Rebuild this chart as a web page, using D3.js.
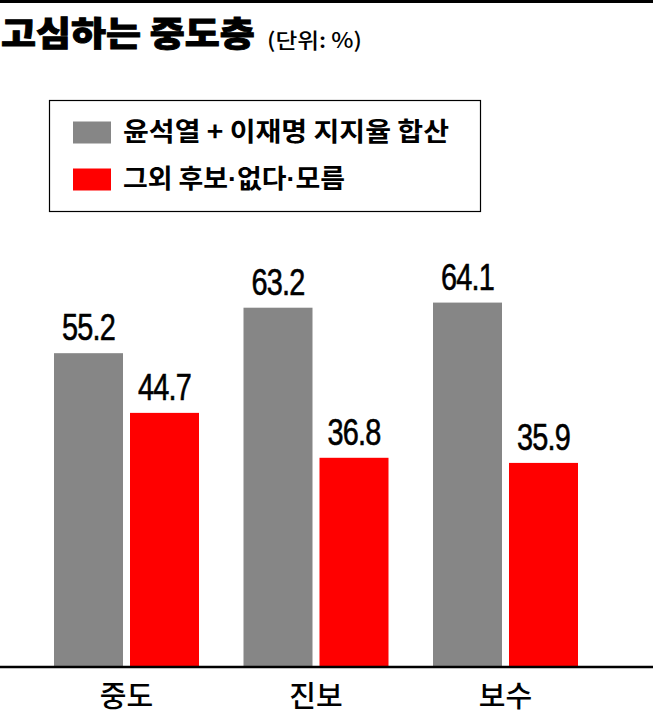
<!DOCTYPE html>
<html>
<head>
<meta charset="utf-8">
<script src="https://cdn.jsdelivr.net/npm/d3@7"></script>
<style>
  body { margin: 0; background: #fff; }
  svg { display: block; }
  .kr { font-family: "Noto Sans CJK KR", "Noto Sans", sans-serif; }
  .num { font-family: "Liberation Sans Narrow", "Liberation Sans", Arial, sans-serif; }
  .dot { font-family: "Liberation Sans", Arial, sans-serif; }
</style>
</head>
<body>
<svg id="chart"></svg>
<script>
// data
const categories = ['중도', '진보', '보수'];
const seriesNames = ['윤석열 + 이재명 지지율 합산', '그외 후보·없다·모름'];
const bigTwo = [55.2, 63.2, 64.1];
const others = [44.7, 36.8, 35.9];
const seriesColors = ['#868686', '#ff0000'];

const W = 653, H = 715;
const baseY = 667;

const svg = d3.select('#chart')
    .attr('width', W)
    .attr('height', H);

// top rule
svg.append('rect')
    .attr('x', 0).attr('y', 0)
    .attr('width', W).attr('height', 3)
    .attr('fill', '#000');

// title + unit
svg.append('text')
    .attr('class', 'kr')
    .attr('transform', 'translate(1,46) scale(1.12,1)')
    .style('font-size', '34px')
    .style('font-weight', 900)
    .style('stroke', '#000')
    .style('stroke-width', 0.9)
    .text('고심하는 중도층');

svg.append('text')
    .attr('class', 'kr')
    .attr('x', 267).attr('y', 48)
    .attr('textLength', 95)
    .attr('lengthAdjust', 'spacingAndGlyphs')
    .style('font-size', '21px')
    .style('font-weight', 500)
    .text('(단위: %)');

// legend
const legend = svg.append('g');
legend.append('rect')
    .attr('x', 49.5).attr('y', 100.5)
    .attr('width', 431).attr('height', 111)
    .attr('fill', 'none')
    .attr('stroke', '#000')
    .attr('stroke-width', 1.2);

const legWidths = [326, 222];

const legItems = legend.selectAll('.leg')
    .data(seriesNames)
    .join('g')
    .attr('class', 'leg')
    .attr('transform', (d, i) => `translate(73,${121.5 + i * 47})`);

legItems.append('rect')
    .attr('width', 38).attr('height', 22)
    .attr('fill', (d, i) => seriesColors[i]);

// split on the middle dot so it can use a narrow latin glyph
legItems.append('text')
    .attr('class', 'kr')
    .attr('x', 50).attr('y', 19)
    .attr('textLength', (d, i) => legWidths[i])
    .attr('lengthAdjust', 'spacingAndGlyphs')
    .style('font-size', '26px')
    .style('font-weight', 700)
    .each(function(d) {
      const t = d3.select(this);
      d.split(/(·)/).forEach(part => {
        t.append('tspan')
          .attr('class', part === '·' ? 'dot' : null)
          .text(part);
      });
    });

// scales
const x0 = d3.scaleBand()
    .domain(categories)
    .range([31.75, 600.25]);

const groupW = 145;
const x1 = d3.scaleBand()
    .domain([0, 1])
    .range([0, groupW])
    .paddingInner(7 / 76);

const y = d3.scaleLinear()
    .domain([0, 100])
    .range([baseY, 98.5]);

const rows = categories.map((c, i) => ({cat: c, vals: [bigTwo[i], others[i]]}));

const groups = svg.selectAll('.grp')
    .data(rows)
    .join('g')
    .attr('class', 'grp')
    .attr('transform', d => `translate(${x0(d.cat) + (x0.bandwidth() - groupW) / 2},0)`);

groups.selectAll('rect')
    .data(d => d.vals)
    .join('rect')
    .attr('x', (d, i) => x1(i))
    .attr('y', d => y(d))
    .attr('width', x1.bandwidth())
    .attr('height', d => baseY - y(d))
    .attr('fill', (d, i) => seriesColors[i]);

// value labels, squeezed like the condensed face in the original
groups.selectAll('.val')
    .data(d => d.vals)
    .join('text')
    .attr('class', 'val num')
    .attr('transform', (d, i) => `translate(${x1(i) + x1.bandwidth() / 2},${y(d) - 13}) scale(0.78,1)`)
    .attr('text-anchor', 'middle')
    .style('font-size', '37px')
    .style('letter-spacing', '-1px')
    .style('stroke', '#000')
    .style('stroke-width', 0.6)
    .text(d => d.toFixed(1));

// baseline
svg.append('line')
    .attr('x1', 0).attr('x2', W)
    .attr('y1', baseY).attr('y2', baseY)
    .attr('stroke', '#000')
    .attr('stroke-width', 2.5);

// category labels
svg.selectAll('.cat')
    .data(categories)
    .join('text')
    .attr('class', 'cat kr')
    .attr('x', d => x0(d) + x0.bandwidth() / 2)
    .attr('y', 707)
    .attr('text-anchor', 'middle')
    .style('font-size', '29px')
    .style('font-weight', 500)
    .text(d => d);
</script>
</body>
</html>
